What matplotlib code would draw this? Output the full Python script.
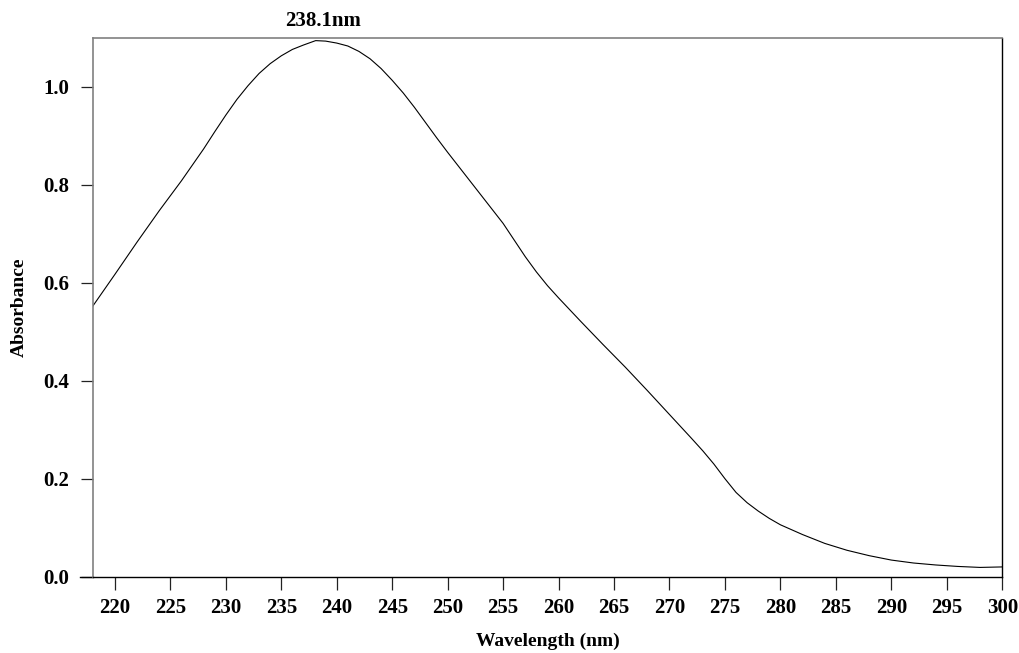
import matplotlib
matplotlib.use("Agg")
import matplotlib.pyplot as plt

# UV absorbance spectrum (wavelength in nm, absorbance)
wavelength = [218, 220, 222, 224, 226, 228, 229, 230, 231, 232, 233, 234, 235,
              236, 237, 238.1, 239, 240, 241, 242, 243, 244, 245, 246, 247, 248,
              249, 250, 252, 254, 255, 256, 257, 258, 259, 260, 261, 262, 264,
              266, 268, 270, 272, 273, 274, 275, 276, 277, 278, 279, 280, 281,
              282, 284, 286, 288, 290, 292, 294, 296, 298, 300]
absorbance = [0.552, 0.617, 0.683, 0.747, 0.808, 0.873, 0.908, 0.942, 0.974,
              1.002, 1.027, 1.047, 1.063, 1.076, 1.085, 1.094, 1.093, 1.089,
              1.083, 1.072, 1.057, 1.037, 1.013, 0.987, 0.958, 0.927, 0.896,
              0.866, 0.808, 0.750, 0.721, 0.687, 0.653, 0.622, 0.594, 0.569,
              0.545, 0.521, 0.474, 0.428, 0.380, 0.331, 0.282, 0.257, 0.230,
              0.200, 0.172, 0.151, 0.134, 0.119, 0.106, 0.096, 0.086, 0.068,
              0.054, 0.043, 0.034, 0.028, 0.024, 0.021, 0.019, 0.020]
peak_nm = 238.1
peak_label = "238.1nm"

x_ticks = list(range(220, 301, 5))
y_ticks = [0.0, 0.2, 0.4, 0.6, 0.8, 1.0]

plt.rcParams["font.family"] = "Liberation Serif"
plt.rcParams["font.weight"] = "bold"

fig = plt.figure(figsize=(10.2, 6.53), dpi=100)
ax = fig.add_axes([0.0909, 0.1168, 0.8917, 0.8255])

ax.plot(wavelength, absorbance, color="black", linewidth=0.8)

ax.set_xlim(218, 300)
ax.set_ylim(0, 1.1)
ax.set_xticks(x_ticks)
ax.set_yticks(y_ticks)
ax.set_yticklabels([f"{v:.1f}" for v in y_ticks])
ax.tick_params(axis="both", direction="out", length=9, width=0.9,
               labelsize=15, color="#222222")
ax.tick_params(axis="x", pad=6)
ax.tick_params(axis="y", pad=8)

for side in ["left", "top"]:
    ax.spines[side].set_color("#808080")
    ax.spines[side].set_linewidth(1.2)
for side in ["right", "bottom"]:
    ax.spines[side].set_color("black")
    ax.spines[side].set_linewidth(1.0)

# bottom axis line runs on past the left spine to the y tick ends
ax.plot([-13 / 909, 0], [0, 0], transform=ax.transAxes, color="black",
        linewidth=1.0, clip_on=False)

ax.set_xlabel("Wavelength (nm)", fontsize=14, fontweight="bold", labelpad=11)
ax.set_ylabel("Absorbance", fontsize=14, fontweight="bold", labelpad=11)

ax.annotate(peak_label, xy=(peak_nm, 1.1), xytext=(5, 12),
            textcoords="offset points", ha="center", va="center",
            fontsize=15, fontweight="bold")

fig.savefig("out.png", dpi=100)
